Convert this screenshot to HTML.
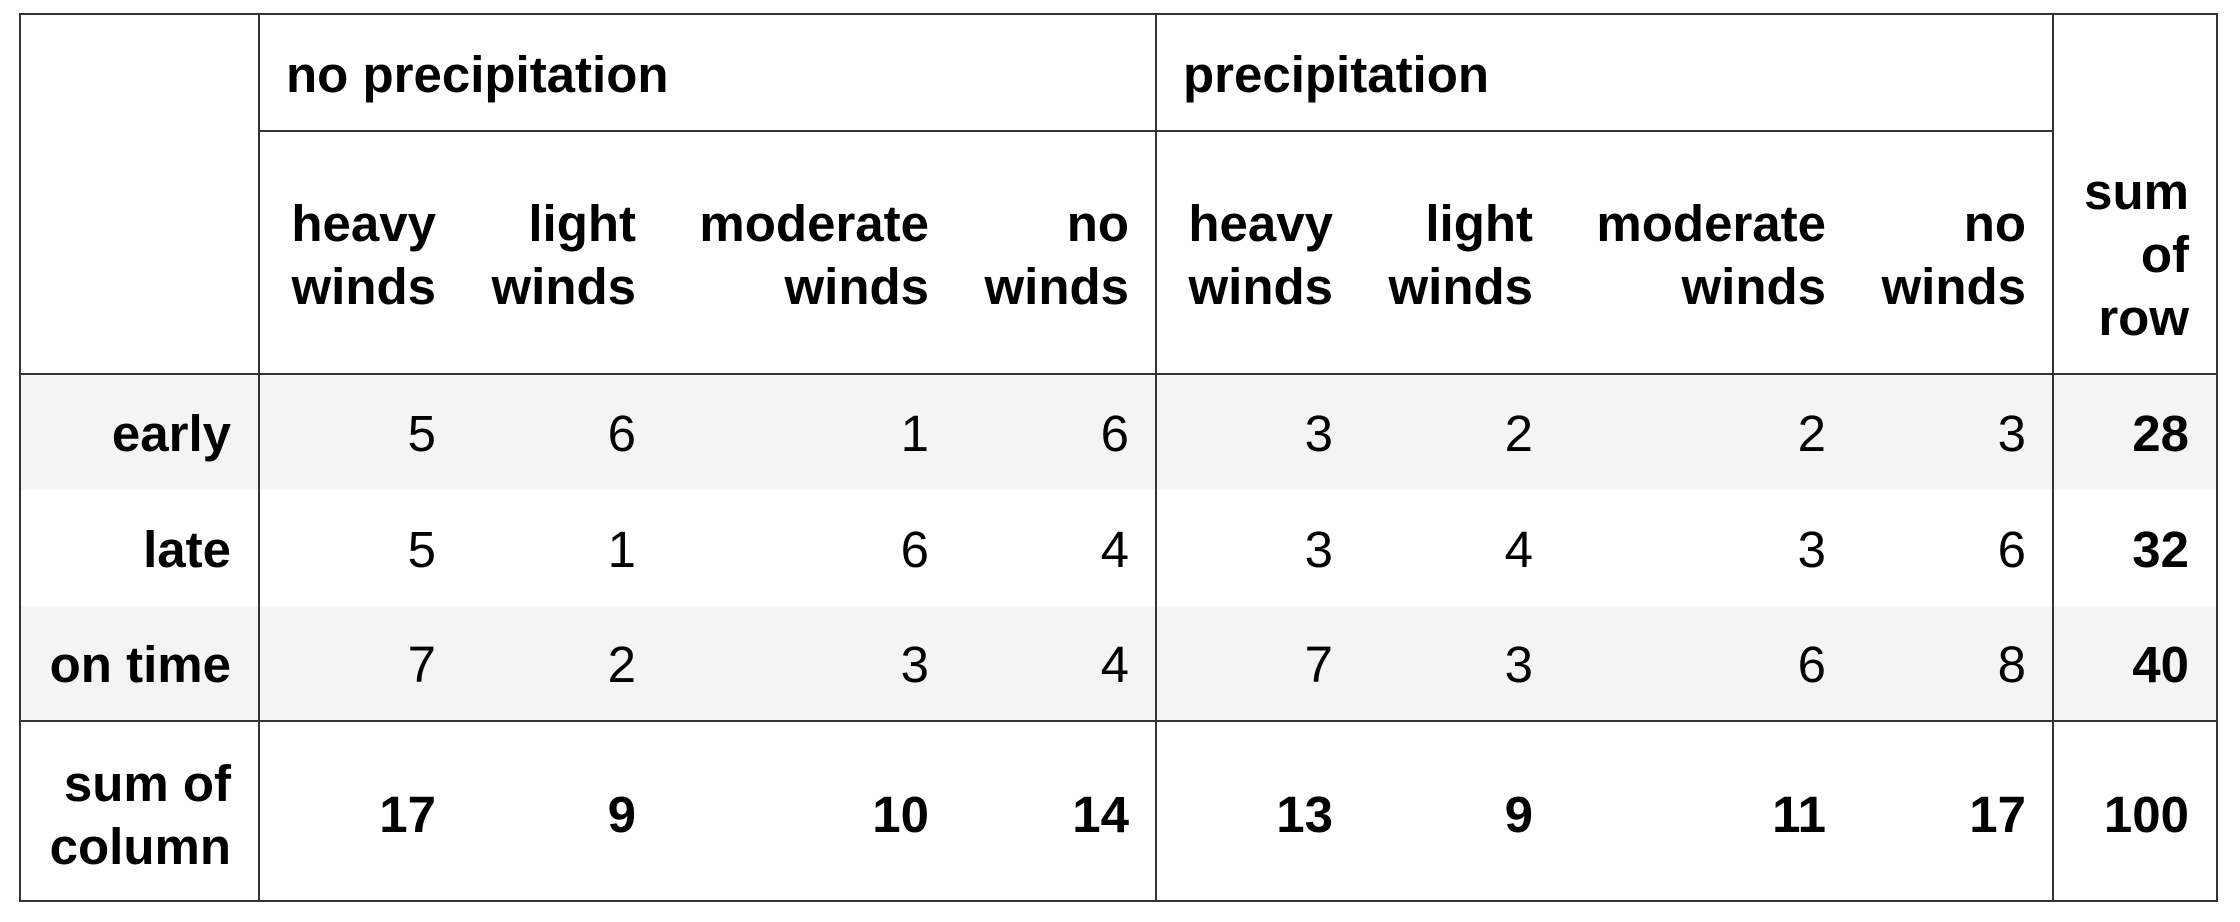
<!DOCTYPE html>
<html><head><meta charset="utf-8"><style>
body{margin:0;width:2240px;height:922px;background:#fff;position:relative;overflow:hidden;font-family:"Liberation Sans",Arial,sans-serif;color:#000}
.t{position:absolute;font-size:51px;line-height:63px;white-space:nowrap}
.r{text-align:right}
.b{font-weight:bold}
.ln{position:absolute;background:#333}
.band{position:absolute;background:#f4f4f4}
</style></head><body>
<script>
const groups=["no precipitation","precipitation"];
const winds=[["heavy","winds"],["light","winds"],["moderate","winds"],["no","winds"]];
const rows=["early","late","on time"];
const values=[[5,6,1,6,3,2,2,3],[5,1,6,4,3,4,3,6],[7,2,3,4,7,3,6,8]];
const rowSums=[28,32,40];
const colSums=[17,9,10,14,13,9,11,17];
const total=100;

const colRight=[436,636,929,1129,1333,1533,1826,2026];
const rowCenter=[433,549,664];
function add(cls,txt,x,yc,right,name){
  const d=document.createElement('div');
  d.className='t '+cls;
  
  
  d.innerHTML=txt;
  const n=String(txt).split('<br>').length;
  d.style.top=(yc-31.5*n)+'px';
  if(right){d.style.right=(2240-x)+'px';}else{d.style.left=x+'px';}
  document.body.appendChild(d);
}
function line(x,y,w,h,name){
  const d=document.createElement('div');d.className='ln';
  
  
  Object.assign(d.style,{left:x+'px',top:y+'px',width:w+'px',height:h+'px'});
  document.body.appendChild(d);
}
function band(y,h,name){
  const d=document.createElement('div');d.className='band';
  
  
  Object.assign(d.style,{left:'20px',top:y+'px',width:'2197px',height:h+'px'});
  document.body.appendChild(d);
}
band(374,116,'row-band-early');
band(606,115,'row-band-on-time');
line(19,13,2199,2,'border-top');
line(19,900,2199,2,'border-bottom');
line(19,13,2,889,'border-left');
line(2216,13,2,889,'border-right');
line(258,13,2,889,'divider-row-labels');
line(1155,13,2,889,'divider-groups');
line(2052,13,2,889,'divider-sum-col');
line(258,130,1796,2,'divider-group-header');
line(19,373,2199,2,'divider-header');
line(19,720,2199,2,'divider-sum-row');

add('b',groups[0],286,74,false,'group-header-no-precipitation');
add('b',groups[1],1183,74,false,'group-header-precipitation');
for(let g=0;g<2;g++)for(let i=0;i<4;i++){
  add('b r',winds[i].join('<br>'),colRight[g*4+i],254.5,true,'column-header');
}
add('b r','sum<br>of<br>row',2189,254,true,'column-header-sum-of-row');
rows.forEach((r,ri)=>{
  add('b r',r,231,rowCenter[ri],true,'row-label-'+r.replace(' ','-'));
  values[ri].forEach((v,ci)=>add('r',v,colRight[ci],rowCenter[ri],true,'cell-value'));
  add('b r',rowSums[ri],2189,rowCenter[ri],true,'row-sum');
});
add('b r','sum of<br>column',231,814.5,true,'row-label-sum-of-column');
colSums.forEach((v,ci)=>add('b r',v,colRight[ci],814,true,'column-sum'));
add('b r',total,2189,814,true,'grand-total');
</script>
</body></html>
